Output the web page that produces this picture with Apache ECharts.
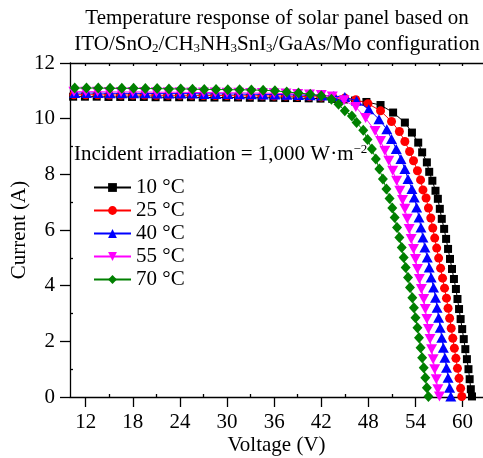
<!DOCTYPE html>
<html><head><meta charset="utf-8">
<script src="https://cdn.jsdelivr.net/npm/echarts@6/dist/echarts.min.js"></script>
<style>html,body{margin:0;padding:0;background:#fff}#c{width:483px;height:458px}</style>
</head><body><div id="c"></div>
<script>
// ---- data ----
const names = ['10 °C', '25 °C', '40 °C', '55 °C', '70 °C'];
const colors = ['#000000', '#ff0000', '#0000ff', '#ff00ff', '#008000'];
const xTicks = [12, 18, 24, 30, 36, 42, 48, 54, 60];
const xMinor = [15, 21, 27, 33, 39, 45, 51, 57];
const yMinor = [1, 3, 5, 7, 9, 11];

const V10 = [10.4,11.9,13.4,14.9,16.4,17.9,19.4,20.9,22.4,23.9,25.4,26.9,28.4,29.9,31.4,32.9,34.4,35.9,37.4,38.9,40.4,41.9,43.4,44.9,46.3,
  47.75,49.55,51.15,52.65,53.55,54.35,54.85,55.45,55.75,56.15,56.55,
  56.85,57.1,57.35,57.65,57.9,58.15,58.4,58.65,58.9,59.15,59.35,59.55,59.75,59.95,60.15,60.35,60.55,60.75,60.9,61.05,61.2];
const I10 = [10.79,10.79,10.79,10.78,10.78,10.78,10.78,10.77,10.77,10.77,10.77,10.76,10.76,10.76,10.76,10.75,10.75,10.75,10.74,10.74,10.73,10.72,10.71,10.69,10.65,
  10.6,10.49,10.22,9.86,9.5,9.14,8.79,8.43,8.09,7.77,7.41,
  7.12,6.76,6.4,6.04,5.68,5.32,4.96,4.6,4.24,3.88,3.52,3.16,2.8,2.44,2.08,1.72,1.36,1.0,0.64,0.28,0.02];

const V25 = [10.5,12,13.5,15,16.5,18,19.5,21,22.5,24,25.5,27,28.5,30,31.5,33,34.5,36,37.5,39,40.5,42,43.5,45,46.4,
  47.95,49.55,50.95,51.95,52.65,53.25,53.75,54.25,54.65,54.95,
  55.35,55.65,55.95,56.2,56.45,56.7,56.95,57.2,57.45,57.7,57.95,58.15,58.35,58.55,58.75,58.95,59.15,59.35,59.55,59.75,59.9];
const I25 = [10.86,10.86,10.86,10.85,10.85,10.85,10.85,10.84,10.84,10.84,10.84,10.83,10.83,10.83,10.82,10.82,10.82,10.81,10.81,10.80,10.79,10.78,10.76,10.74,10.68,
  10.54,10.28,9.9,9.54,9.18,8.82,8.49,8.13,7.8,7.44,
  7.15,6.79,6.43,6.07,5.71,5.35,4.99,4.63,4.27,3.91,3.55,3.19,2.83,2.47,2.11,1.75,1.39,1.03,0.67,0.31,0.02];

const V40 = [10.6,12.1,13.6,15.1,16.6,18.1,19.6,21.1,22.6,24.1,25.6,27.1,28.6,30.1,31.6,33.1,34.6,36.1,37.6,39.1,40.6,42.1,43.6,
  45.0,46.5,48.05,49.35,50.35,50.95,51.55,52.15,52.65,53.05,53.55,
  53.85,54.15,54.45,54.7,54.95,55.2,55.5,55.75,56.0,56.3,56.55,56.75,56.95,57.15,57.35,57.55,57.75,57.95,58.15,58.35,58.5];
const I40 = [10.92,10.92,10.92,10.91,10.91,10.91,10.91,10.90,10.90,10.90,10.90,10.89,10.89,10.89,10.88,10.88,10.87,10.87,10.86,10.85,10.84,10.83,10.81,
  10.78,10.64,10.34,9.98,9.62,9.27,8.91,8.55,8.19,7.83,7.47,
  7.17,6.81,6.45,6.09,5.73,5.37,5.01,4.65,4.29,3.93,3.57,3.21,2.85,2.49,2.13,1.77,1.41,1.05,0.69,0.33,0.02];

const V55 = [10.5,12,13.5,15,16.5,18,19.5,21,22.5,24,25.5,27,28.5,30,31.5,33,34.5,36,37.5,39,40.5,42,43.4,
  44.9,46.4,47.65,48.85,49.55,50.1,50.6,51.1,51.6,52.0,
  52.35,52.65,52.95,53.2,53.45,53.75,54.0,54.25,54.5,54.75,55.05,55.25,55.45,55.65,55.85,56.05,56.25,56.45,56.65,56.85,57.05];
const I55 = [10.97,10.97,10.97,10.96,10.96,10.96,10.96,10.95,10.95,10.95,10.94,10.94,10.94,10.93,10.93,10.92,10.92,10.91,10.90,10.89,10.87,10.85,10.80,
  10.66,10.42,10.02,9.56,9.2,8.85,8.49,8.13,7.77,7.41,
  7.08,6.76,6.4,6.04,5.68,5.32,4.96,4.6,4.24,3.88,3.52,3.16,2.8,2.44,2.08,1.72,1.36,1.0,0.64,0.28,0.02];

const V70 = [10.6,12.1,13.6,15.1,16.6,18.1,19.6,21.1,22.6,24.1,25.6,27.1,28.6,30.1,31.6,33.1,34.6,36.1,37.6,39.1,40.6,42.0,
  43.3,44.2,45.0,45.9,46.5,47.35,47.9,48.45,48.95,49.4,49.85,50.3,50.7,
  51.05,51.35,51.65,51.95,52.25,52.5,52.75,53.05,53.3,53.6,53.8,54.0,54.25,54.45,54.65,54.85,55.05,55.25,55.45,55.65];
const I70 = [11.10,11.10,11.10,11.09,11.09,11.09,11.08,11.08,11.07,11.07,11.06,11.05,11.05,11.04,11.04,11.03,11.02,11.00,10.96,10.92,10.88,10.82,
  10.7,10.52,10.28,10.1,9.86,9.58,9.25,8.91,8.55,8.19,7.83,7.47,7.13,
  6.79,6.45,6.09,5.73,5.37,5.01,4.65,4.29,3.93,3.57,3.21,2.85,2.49,2.13,1.77,1.41,1.05,0.69,0.33,0.02];

const voltages = [V10, V25, V40, V55, V70];
const currents = [I10, I25, I40, I55, I70];
const symbols = ['rect', 'circle', 'triangle', 'triangle', 'diamond'];
const symbolSizes = [8, 9, [11, 10], [11, 10], [10, 11]];
const symbolRotates = [0, 0, 0, 180, 0];

// ---- chart ----
const FONT = 'Liberation Serif';
const FS = 21;
const chart = echarts.init(document.getElementById('c'), null, {renderer: 'canvas'});

const series = names.map((n, s) => ({
  name: n,
  type: 'line',
  data: voltages[s].map((v, k) => [v, currents[s][k]]),
  symbol: symbols[s],
  symbolSize: symbolSizes[s],
  symbolRotate: symbolRotates[s],
  showAllSymbol: true,
  color: colors[s],
  itemStyle: {color: colors[s]},
  lineStyle: {color: colors[s], width: 1},
  clip: true,
  z: 2 + s
}));

const lineStyle = {color: '#000', width: 1.3};

chart.setOption({
  animation: false,
  backgroundColor: '#fff',
  grid: {left: 70, right: 0, top: 63, bottom: 61, containLabel: false, outerBoundsMode: 'none'},
  legend: {
    data: names,
    orient: 'vertical',
    left: 93, top: 177, padding: 0,
    itemWidth: 37, itemHeight: 11, itemGap: 2,
    textStyle: {fontFamily: FONT, fontSize: FS, color: '#000', lineHeight: 21},
    selectedMode: false
  },
  xAxis: [
    {type: 'value', position: 'bottom', min: 10, max: 62.6,
      name: 'Voltage (V)', nameLocation: 'middle', nameGap: 38, nameMoveOverlap: false,
      nameTextStyle: {fontFamily: FONT, fontSize: FS, color: '#000'},
      axisLine: {show: true, onZero: false, lineStyle: lineStyle},
      axisTick: {show: true, inside: false, length: 10, customValues: xTicks, lineStyle: lineStyle},
      axisLabel: {show: true, customValues: xTicks, margin: 15, fontFamily: FONT, fontSize: FS, color: '#000'},
      splitLine: {show: false}},
    {type: 'value', position: 'bottom', min: 10, max: 62.6,
      axisLine: {show: false},
      axisTick: {show: true, inside: true, length: 3, customValues: xMinor, lineStyle: lineStyle},
      axisLabel: {show: false}, splitLine: {show: false}},
    {type: 'value', position: 'top', min: 10, max: 62.6,
      axisLine: {show: true, onZero: false, lineStyle: lineStyle},
      axisTick: {show: true, inside: true, length: 3, customValues: xTicks.concat(xMinor), lineStyle: lineStyle},
      axisLabel: {show: false}, splitLine: {show: false}}
  ],
  yAxis: [
    {type: 'value', position: 'left', min: 0, max: 12, interval: 2,
      name: 'Current (A)', nameLocation: 'middle', nameGap: 40, nameMoveOverlap: false,
      nameTextStyle: {fontFamily: FONT, fontSize: FS, color: '#000'},
      axisLine: {show: true, onZero: false, lineStyle: lineStyle},
      axisTick: {show: true, inside: false, length: 10, lineStyle: lineStyle},
      axisLabel: {margin: 15, fontFamily: FONT, fontSize: FS, color: '#000'},
      splitLine: {show: false}},
    {type: 'value', position: 'left', min: 0, max: 12,
      axisLine: {show: false},
      axisTick: {show: true, inside: true, length: 3, customValues: yMinor, lineStyle: lineStyle},
      axisLabel: {show: false}, splitLine: {show: false}}
  ],
  series: series,
  graphic: [
    {type: 'text', x: 277, y: 18, style: {
      text: 'Temperature response of solar panel based on',
      font: '21px "Liberation Serif"', fill: '#000', align: 'center', verticalAlign: 'middle'}},
    {type: 'text', x: 277, y: 44, style: {
      text: 'ITO/SnO{s|2}/CH{s|3}NH{s|3}SnI{s|3}/GaAs/Mo configuration',
      font: '21px "Liberation Serif"', fill: '#000', align: 'center', verticalAlign: 'middle',
      lineHeight: 22,
      rich: {s: {fontSize: 13, fontFamily: FONT, verticalAlign: 'bottom', lineHeight: 10}}}},
    {type: 'text', x: 74, y: 154, style: {
      text: 'Incident irradiation = 1,000 W·m{p|−2}',
      font: '21px "Liberation Serif"', fill: '#000', align: 'left', verticalAlign: 'middle',
      lineHeight: 22,
      rich: {p: {fontSize: 13, fontFamily: FONT, verticalAlign: 'top', lineHeight: 10}}}}
  ]
});
</script>
</body></html>
